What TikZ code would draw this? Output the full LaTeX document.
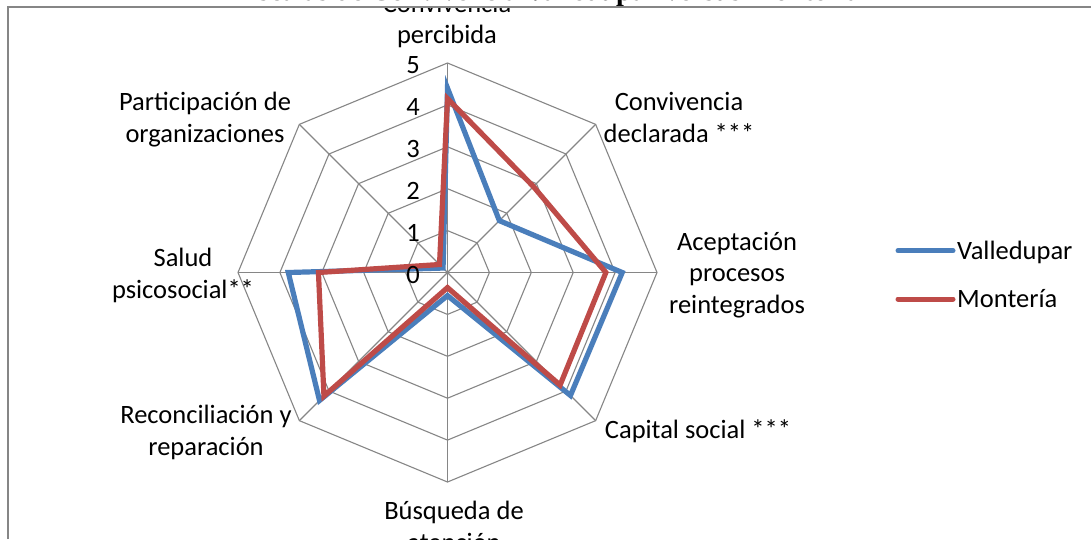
\documentclass[tikz,border=0pt]{standalone}
\usepackage{fontspec}
\setmainfont{Carlito}
\newfontfamily\titlefont{Liberation Serif}
\definecolor{gridgray}{HTML}{868686}
\definecolor{vblue}{HTML}{4A7EBB}
\definecolor{mred}{HTML}{BE4B48}
\begin{document}
\begin{tikzpicture}[x=1pt,y=-1pt,
  lbl/.style={font=\fontsize{26.5}{31.5}\selectfont, inner sep=0pt, align=center},
  ticklbl/.style={font=\fontsize{26.5}{31.5}\selectfont, inner sep=0pt, anchor=base east},
  gridline/.style={draw=gridgray, line width=1.1pt},
  frameline/.style={draw=gridgray, line width=1.4pt},
  vline/.style={draw=vblue, line width=5.2pt, line join=miter},
  mline/.style={draw=mred, line width=5.2pt, line join=miter},
  vleg/.style={draw=vblue, line width=5pt, line cap=round},
  mleg/.style={draw=mred, line width=5pt, line cap=round}]
\useasboundingbox (0,0) rectangle (1091,539);
% title (mostly cut off at the top)
\node[font=\titlefont\bfseries\fontsize{28}{32}\selectfont, inner sep=0pt, anchor=base] (title) at (550,0.3) {Escalas de Convivencia Valledupar versus Montería};
\fill[white] (0,7) rectangle (1091,539);
\begin{scope}
\clip (8,7) rectangle (1091,539);
\begin{scope}[shift={(447.5,272.5)}, y=1pt]
\def\u{41.9}
\foreach \k in {1,...,5}{
  \draw[gridline] (90:{\k*\u}) -- (45:{\k*\u}) -- (0:{\k*\u}) -- (-45:{\k*\u}) -- (-90:{\k*\u}) -- (-135:{\k*\u}) -- (180:{\k*\u}) -- (135:{\k*\u}) -- cycle;
}
\coordinate (c) at (0,0);
\foreach \a in {0,45,...,315}{
  \coordinate (s\a) at (\a:{5*\u});
  \draw[gridline] (c) -- (s\a);
}
% Valledupar
\coordinate (v1) at (90:{4.40*\u});
\coordinate (v2) at (45:{1.75*\u});
\coordinate (v3) at (0:{4.17*\u});
\coordinate (v4) at (-45:{4.15*\u});
\coordinate (v5) at (-90:{0.55*\u});
\coordinate (v6) at (-135:{4.32*\u});
\coordinate (v7) at (180:{3.80*\u});
\coordinate (v8) at (135:{0.15*\u});
% Monteria
\coordinate (m1) at (90:{4.15*\u});
\coordinate (m2) at (45:{2.90*\u});
\coordinate (m3) at (0:{3.78*\u});
\coordinate (m4) at (-45:{3.80*\u});
\coordinate (m5) at (-90:{0.36*\u});
\coordinate (m6) at (-135:{4.17*\u});
\coordinate (m7) at (180:{3.08*\u});
\coordinate (m8) at (135:{0.27*\u});
\draw[vline] (v1) -- (v2) -- (v3) -- (v4) -- (v5) -- (v6) -- (v7) -- (v8) -- cycle;
\draw[mline] (m1) -- (m2) -- (m3) -- (m4) -- (m5) -- (m6) -- (m7) -- (m8) -- cycle;
\end{scope}
% tick labels
\node[ticklbl] (t0) at (420,283) {0};
\node[ticklbl] (t1) at (420,241.1) {1};
\node[ticklbl] (t2) at (420,199.2) {2};
\node[ticklbl] (t3) at (420,157.3) {3};
\node[ticklbl] (t4) at (420,115.4) {4};
\node[ticklbl] (t5) at (420,73.5) {5};
% axis labels (anchor base = baseline of the last line)
\node[lbl, anchor=base] (a1) at (447,43.5) {Convivencia\\percibida};
\node[lbl, anchor=base] (a2) at (679,142) {Convivencia\\declarada ***};
\node[lbl, anchor=base] (a3) at (737,313) {Aceptación\\procesos\\reintegrados};
\node[lbl, anchor=base] (a4) at (698,438) {Capital social ***};
\node[lbl, anchor=base] (a5) at (454,551) {Búsqueda de\\atención};
\node[lbl, anchor=base] (a6) at (206,455) {Reconciliación y\\reparación};
\node[lbl, anchor=base] (a7) at (183,298) {Salud\\psicosocial**};
\node[lbl, anchor=base] (a8) at (205,142) {Participación de\\organizaciones};
\end{scope}
% frame
\coordinate (f1) at (8,539);
\coordinate (f2) at (8,7);
\coordinate (f3) at (1091,7);
\draw[frameline] (f1) -- (f2) -- (f3);
% legend
\coordinate (lv1) at (898,250.7);
\coordinate (lv2) at (953,250.7);
\coordinate (lm1) at (898,299);
\coordinate (lm2) at (953,299);
\draw[vleg] (lv1) -- (lv2);
\draw[mleg] (lm1) -- (lm2);
\node[lbl, anchor=base west] (lgv) at (957,259) {Valledupar};
\node[lbl, anchor=base west] (lgm) at (957,307.5) {Montería};
\end{tikzpicture}
\end{document}
